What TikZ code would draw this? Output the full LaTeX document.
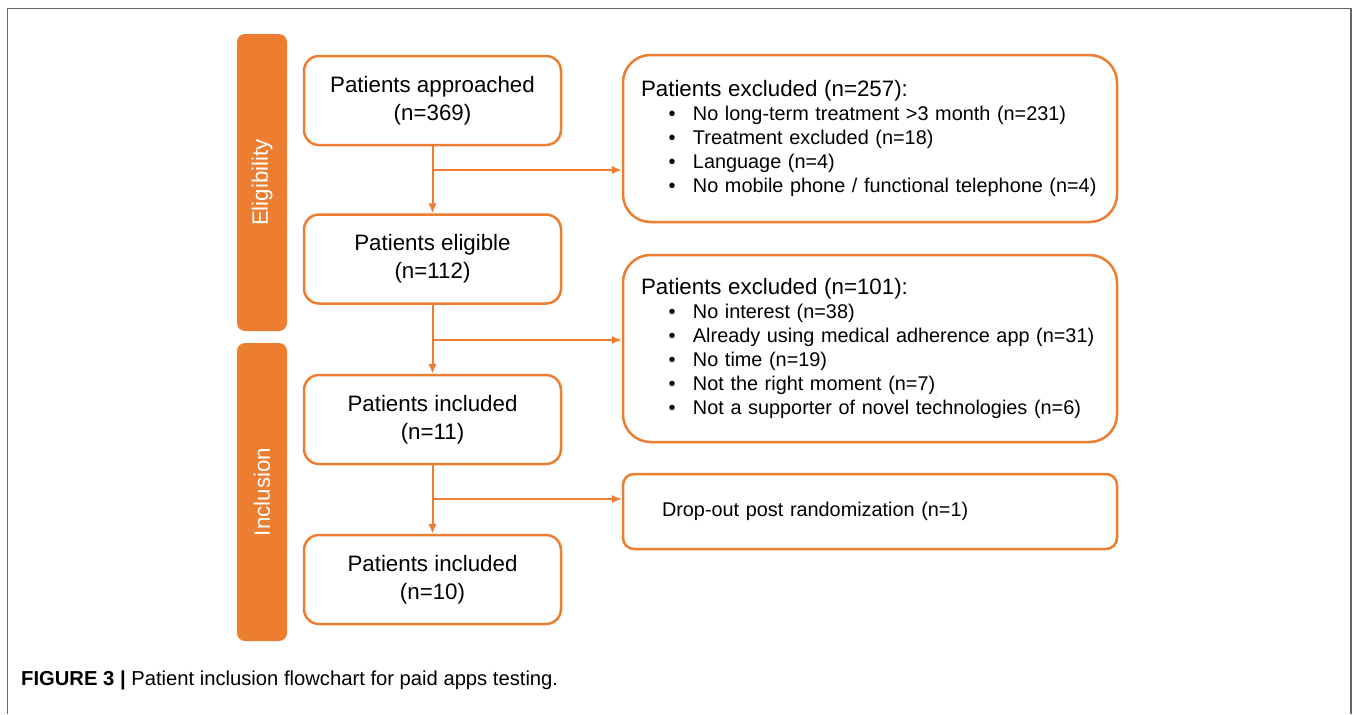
\documentclass[tikz,border=0pt]{standalone}
\usepackage{fontspec}
\setmainfont{Liberation Sans}
\usepackage{xcolor}
\usetikzlibrary{arrows.meta}
\usetikzlibrary{positioning}

\definecolor{ora}{RGB}{237,125,49}

\tikzset{
    mainbox/.style={draw=ora, line width=0.05cm, rounded corners=0.3cm, fill=white,
        minimum width=5.14cm, minimum height=1.78cm, align=center,
        font=\fontsize{12.7}{15.9}\selectfont},
    exbox/.style={draw=ora, line width=0.05cm, rounded corners=0.55cm, fill=white,
        text width=9.16cm, inner xsep=0.36cm, align=left,
        font=\fontsize{11.3}{13.6}\selectfont},
    dropbox/.style={draw=ora, line width=0.05cm, rounded corners=0.22cm, fill=white,
        minimum width=9.88cm, minimum height=1.5cm, text width=9.16cm, inner xsep=0.36cm, align=left,
        font=\fontsize{11.3}{13.6}\selectfont},
    phase/.style={fill=ora, rounded corners=0.16cm, minimum width=1cm, text=white,
        font=\fontsize{12.7}{15}\selectfont},
    flow/.style={draw=ora, line width=0.04cm, -{Latex[length=0.2cm,width=0.17cm]}},
}

\newcommand{\itm}[1]{\hspace*{0.55cm}\makebox[0.49cm][l]{\textbullet}#1}
\newcommand{\extitle}[1]{{\fontsize{12.7}{14.2}\selectfont #1}}

\begin{document}
\begin{tikzpicture}
            \useasboundingbox(0, 0) rectangle (27.16, -14.28);
            \draw[line width=0.03cm, black!60](0.15, -14.28)|-(27.02, -0.17)--(27.02, -14.28);

            % phases
            \node[phase, minimum height=5.94cm](elig) at (5.24, -3.65){};
            \node[rotate=90, text=white, font=\fontsize{12.7}{15}\selectfont](eligtxt) at (elig.center){Eligibility};
            \node[phase, minimum height=5.96cm](incl) at (5.24, -9.84){};
            \node[rotate=90, text=white, font=\fontsize{12.7}{15}\selectfont](incltxt) at (incl.center){Inclusion};

            % main column
            \node[mainbox](appr) at (8.65, -2.01){Patients approached\\(n=369)};
            \node[mainbox](elg) at (8.65, -5.18){Patients eligible\\(n=112)};
            \node[mainbox](inc) at (8.65, -8.39){Patients included\\(n=11)};
            \node[mainbox](fin) at (8.65, -11.59){Patients included\\(n=10)};

            % exclusions
            \node[exbox, minimum height=3.34cm](ex1) at (17.4, -2.77){\extitle{Patients excluded (n=257):}\\
                \itm{No long-term treatment >3 month (n=231)}\\
                \itm{Treatment excluded (n=18)}\\
                \itm{Language (n=4)}\\
                \itm{No mobile phone / functional telephone (n=4)}};
            \node[exbox, minimum height=3.74cm](ex2) at (17.4, -6.97){\extitle{Patients excluded (n=101):}\\
                \itm{No interest (n=38)}\\
                \itm{Already using medical adherence app (n=31)}\\
                \itm{No time (n=19)}\\
                \itm{Not the right moment (n=7)}\\
                \itm{Not a supporter of novel technologies (n=6)}};
            \node[dropbox](drop) at (17.4, -10.23){\hspace*{0.42cm}Drop-out post randomization (n=1)};

            \coordinate(s1) at (8.65, -3.4);
            \coordinate(s2) at (8.65, -6.8);
            \coordinate(s3) at (8.65, -9.98);

            \draw[flow](appr)--(elg);
            \draw[flow](elg)--(inc);
            \draw[flow](inc)--(fin);
            \draw[flow](s1)--(s1 -| ex1.west);
            \draw[flow](s2)--(s2 -| ex2.west);
            \draw[flow](s3)--(s3 -| drop.west);

            \node[anchor=base west, font=\fontsize{11.5}{13}\selectfont](cap) at (0.3, -13.7){\textbf{FIGURE 3 |} Patient inclusion flowchart for paid apps testing.};
        \end{tikzpicture}
\end{document}
